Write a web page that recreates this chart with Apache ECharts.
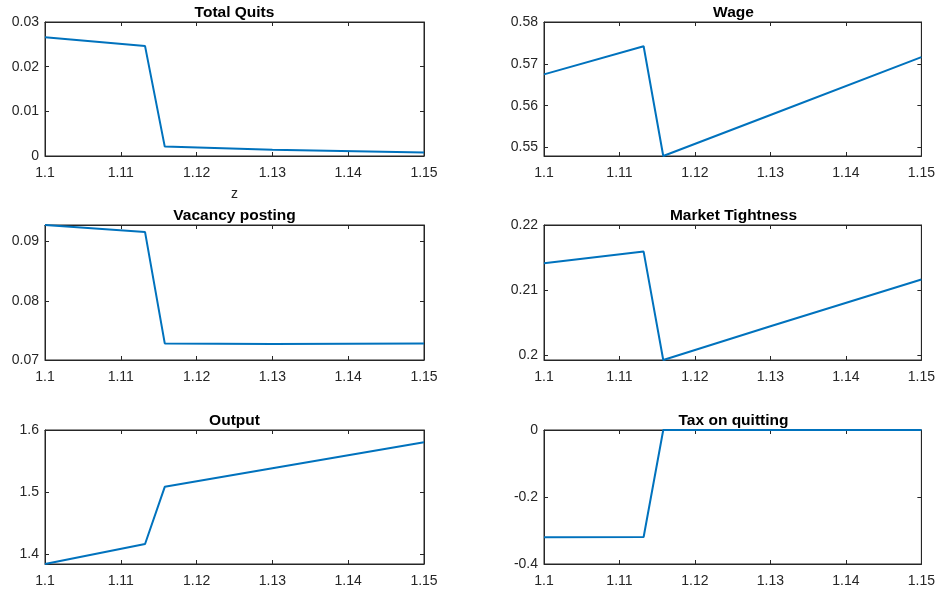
<!DOCTYPE html>
<html>
<head>
<meta charset="utf-8">
<script src="https://cdn.jsdelivr.net/npm/echarts@6/dist/echarts.min.js"></script>
<style>html,body{margin:0;padding:0;background:#fff}#c{width:938px;height:593px}</style>
</head>
<body>
<div id="c"></div>
<script>
// Data
const zValues   = [1.1, 1.1132, 1.1158, 1.13, 1.15];
const quits     = [0.0266, 0.0246, 0.0021, 0.0014, 0.0008];
const wage      = [0.5675, 0.5742, 0.548, 0.5578, 0.5716];
const vacancy   = [0.0928, 0.0916, 0.0728, 0.0727, 0.0728];
const tightness = [0.2141, 0.2159, 0.1992, 0.2044, 0.2116];
const output    = [1.384, 1.4162, 1.5084, 1.5383, 1.5802];
const tax       = [-0.3203, -0.3194, 0, 0, 0];

const xTicks = [1.1, 1.11, 1.12, 1.13, 1.14, 1.15];
const quitsTicks = [0, 0.01, 0.02, 0.03];
const wageTicks = [0.55, 0.56, 0.57, 0.58];
const vacancyTicks = [0.07, 0.08, 0.09];
const tightnessTicks = [0.2, 0.21, 0.22];
const outputTicks = [1.4, 1.5, 1.6];
const taxTicks = [-0.4, -0.2, 0];

const titles = ['Total Quits', 'Wage', 'Vacancy posting', 'Market Tightness', 'Output', 'Tax on quitting'];

const panels = [
  {title: titles[0], data: quits, ticks: quitsTicks, min: 0, max: 0.03, left: 45, top: 22, h: 134, xname: 'z'},
  {title: titles[1], data: wage, ticks: wageTicks, min: 0.548, max: 0.58, left: 544, top: 22, h: 134},
  {title: titles[2], data: vacancy, ticks: vacancyTicks, min: 0.07, max: 0.0928, left: 45, top: 225, h: 135},
  {title: titles[3], data: tightness, ticks: tightnessTicks, min: 0.1992, max: 0.22, left: 544, top: 225, h: 135},
  {title: titles[4], data: output, ticks: outputTicks, min: 1.384, max: 1.6, left: 45, top: 430, h: 134},
  {title: titles[5], data: tax, ticks: taxTicks, min: -0.4, max: 0, left: 544, top: 430, h: 134}
];

const W = 379;
const FONT = 'Liberation Sans, Arial, Helvetica, sans-serif';
const AX = '#262626';

const option = {animation: false, backgroundColor: '#fff', title: [], grid: [], xAxis: [], yAxis: [], series: []};

panels.forEach((p, i) => {
  option.title.push({
    text: p.title, left: p.left + W / 2, top: p.top - 17, textAlign: 'center', padding: 0,
    textStyle: {fontFamily: FONT, fontSize: 15.5, fontWeight: 'bold', color: '#000'}
  });
  option.grid.push({left: p.left, top: p.top, width: W, height: p.h, show: true, borderColor: AX, borderWidth: 1, backgroundColor: '#fff'});
  const common = {
    type: 'value', gridIndex: i, splitLine: {show: false},
    axisLine: {show: true, onZero: false, lineStyle: {color: AX, width: 1}},
    axisTick: {show: true, inside: true, length: 4, lineStyle: {color: AX}}
  };
  option.xAxis.push(Object.assign({}, common, {
    position: 'bottom', min: 1.1, max: 1.15,
    axisTick: Object.assign({}, common.axisTick, {customValues: xTicks}),
    axisLabel: {customValues: xTicks, margin: 10, color: AX, fontSize: 14, fontFamily: FONT},
    name: p.xname || '', nameLocation: 'middle', nameGap: 31,
    nameTextStyle: {color: AX, fontSize: 14, fontFamily: FONT}
  }));
  option.xAxis.push(Object.assign({}, common, {
    position: 'top', min: 1.1, max: 1.15,
    axisTick: Object.assign({}, common.axisTick, {customValues: xTicks}),
    axisLabel: {show: false}
  }));
  option.yAxis.push(Object.assign({}, common, {
    position: 'left', min: p.min, max: p.max,
    axisTick: Object.assign({}, common.axisTick, {customValues: p.ticks}),
    axisLabel: {customValues: p.ticks, margin: 6, color: AX, fontSize: 14, fontFamily: FONT}
  }));
  option.yAxis.push(Object.assign({}, common, {
    position: 'right', min: p.min, max: p.max,
    axisTick: Object.assign({}, common.axisTick, {customValues: p.ticks}),
    axisLabel: {show: false}
  }));
  option.series.push({
    type: 'line', xAxisIndex: 2 * i, yAxisIndex: 2 * i, showSymbol: false, symbol: 'none',
    lineStyle: {color: '#0072BD', width: 2}, itemStyle: {color: '#0072BD'},
    data: zValues.map((z, k) => [z, p.data[k]])
  });
});

const chart = echarts.init(document.getElementById('c'), null, {renderer: 'canvas'});
chart.setOption(option);
</script>
</body>
</html>
